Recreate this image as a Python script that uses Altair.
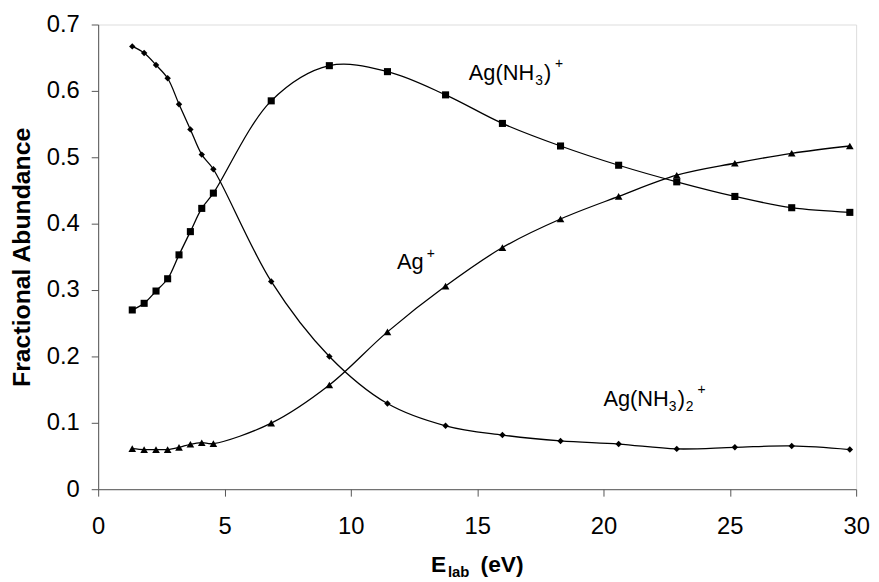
import altair as alt
import pandas as pd

# ---- data ----
energy = [1.35, 1.82, 2.29, 2.75, 3.2, 3.65, 4.1, 4.56, 6.85, 9.15, 11.45,
          13.75, 16.0, 18.3, 20.6, 22.9, 25.2, 27.45, 29.75]
ag_nh3_2 = [0.667, 0.657, 0.639, 0.619, 0.580, 0.542, 0.504, 0.482, 0.313, 0.200,
            0.129, 0.0955, 0.0816, 0.0727, 0.068, 0.0607, 0.0631, 0.0652, 0.0597]
ag_nh3 = [0.270, 0.280, 0.2985, 0.317, 0.353, 0.388, 0.423, 0.446, 0.585, 0.638,
          0.629, 0.594, 0.551, 0.517, 0.488, 0.463, 0.441, 0.424, 0.417]
ag = [0.0612, 0.0597, 0.0597, 0.0597, 0.063, 0.0677, 0.070, 0.0687, 0.0995, 0.157,
      0.237, 0.306, 0.364, 0.407, 0.441, 0.473, 0.491, 0.506, 0.517]

series_names = ["Ag(NH3)2+", "Ag(NH3)+", "Ag+"]
series_shapes = ["diamond", "square", "triangle-up"]
series_sizes = [42, 60, 58]

x_ticks = [0, 5, 10, 15, 20, 25, 30]
y_ticks = [0, 0.1, 0.2, 0.3, 0.4, 0.5, 0.6, 0.7]

# annotation pieces: text, anchor x, anchor y (data), dx, dy, font size
label_text = ["Ag(NH", "3", ")", "+",
              "Ag", "+",
              "Ag(NH", "3", ")", "2", "+"]
label_x = [14.67, 14.67, 14.67, 14.67,
           11.83, 11.83,
           20.0, 20.0, 20.0, 20.0, 20.0]
label_y = [0.616, 0.616, 0.616, 0.616,
           0.331, 0.331,
           0.126, 0.126, 0.126, 0.126, 0.126]
label_dx = [0, 67, 76, 87,
            0, 30,
            0, 66, 75, 83, 95]
label_dy = [0, 5, 0, -12,
            0, -12,
            0, 5, 0, 5, -12]
label_size = [22, 14, 22, 14,
              22, 14,
              22, 14, 22, 14, 14]

# ---- tables ----
rows = []
for name, vals in zip(series_names, [ag_nh3_2, ag_nh3, ag]):
    for e, v in zip(energy, vals):
        rows.append({"E": e, "F": v, "series": name})
df = pd.DataFrame(rows)

labels = pd.DataFrame({"text": label_text, "x": label_x, "y": label_y,
                       "dx": label_dx, "dy": label_dy, "size": label_size})

FONT = "Liberation Sans"

xscale = alt.Scale(domain=[0, 30], nice=False, zero=False)
yscale = alt.Scale(domain=[0, 0.7], nice=False)

xaxis = alt.Axis(values=x_ticks, title=None, grid=False, labelFontSize=24,
                 labelFont=FONT, labelColor="black", tickSize=7, labelPadding=19,
                 domainColor="#555", tickColor="#555", labelFlush=False)
yaxis = alt.Axis(values=y_ticks, format="~g", title="Fractional Abundance",
                 grid=False, labelFontSize=24, labelFont=FONT, labelColor="black",
                 tickSize=7, labelPadding=12, titleFont=FONT, titleFontSize=25,
                 titleFontWeight="bold", titleColor="black", titlePadding=12,
                 domainColor="#555", tickColor="#555")

base = alt.Chart(df)

lines = base.mark_line(interpolate="catmull-rom", strokeWidth=1.3, color="black").encode(
    x=alt.X("E:Q", scale=xscale, axis=xaxis),
    y=alt.Y("F:Q", scale=yscale, axis=yaxis),
    detail="series:N",
)

points = base.mark_point(filled=True, opacity=1, color="black").encode(
    x=alt.X("E:Q", scale=xscale),
    y=alt.Y("F:Q", scale=yscale),
    shape=alt.Shape("series:N", scale=alt.Scale(domain=series_names, range=series_shapes), legend=None),
    size=alt.Size("series:N", scale=alt.Scale(domain=series_names, range=series_sizes), legend=None),
)

layers = [lines, points]
for i in range(len(label_text)):
    sub = labels.iloc[[i]]
    layers.append(
        alt.Chart(sub).mark_text(font=FONT, fontSize=int(label_size[i]), align="left",
                                 baseline="alphabetic", dx=int(label_dx[i]),
                                 dy=int(label_dy[i]), color="black").encode(
            x=alt.X("x:Q", scale=xscale),
            y=alt.Y("y:Q", scale=yscale),
            text="text:N",
        )
    )

# x-axis title with subscript, placed below the plot
xt_text = ["E", "lab", "(eV)"]
xt_px = [336, 353, 386]
xt_py = [553, 558, 553]
xt_size = [23, 15, 23]
for t, px, py, s in zip(xt_text, xt_px, xt_py, xt_size):
    layers.append(
        alt.Chart(pd.DataFrame({"t": [t]})).mark_text(
            font=FONT, fontSize=s, fontWeight="bold", align="left",
            baseline="alphabetic", color="black").encode(
            x=alt.value(px), y=alt.value(py), text="t:N")
    )

chart = alt.layer(*layers).properties(
    width=765, height=469,
    autosize=alt.AutoSizeParams(type="none"),
    padding={"left": 91, "top": 14, "right": 15, "bottom": 91},
).configure_view(stroke="#666", strokeWidth=1).configure(background="white")

chart.save("out.html", embed_options={"renderer": "svg", "actions": False})
